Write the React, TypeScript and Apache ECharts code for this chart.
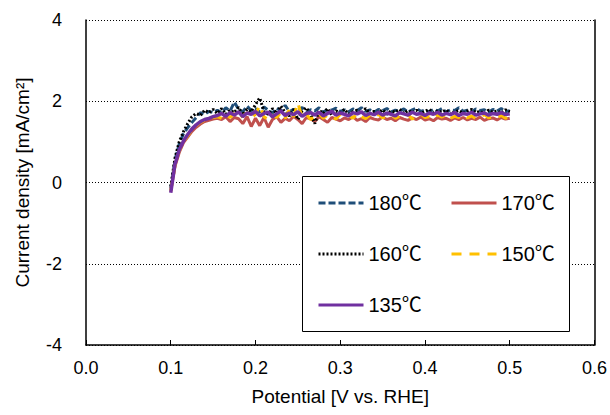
import React, { useEffect, useRef } from "react";
import * as echarts from "echarts";

const potentials = [
  0.100, 0.105, 0.110, 0.115, 0.120, 0.125, 0.130, 0.135, 0.140, 0.145, 0.150,
  0.155, 0.160, 0.165, 0.170, 0.175, 0.180, 0.185, 0.190, 0.195, 0.200,
  0.205, 0.210, 0.215, 0.220, 0.225, 0.230, 0.235, 0.240, 0.245, 0.250,
  0.255, 0.260, 0.265, 0.270, 0.275, 0.280, 0.285, 0.290, 0.295, 0.300,
  0.305, 0.310, 0.315, 0.320, 0.325, 0.330, 0.335, 0.340, 0.345, 0.350,
  0.355, 0.360, 0.365, 0.370, 0.375, 0.380, 0.385, 0.390, 0.395, 0.400,
  0.405, 0.410, 0.415, 0.420, 0.425, 0.430, 0.435, 0.440, 0.445, 0.450,
  0.455, 0.460, 0.465, 0.470, 0.475, 0.480, 0.485, 0.490, 0.495, 0.500,
];

const current180 = [
  -0.15, 0.55, 0.95, 1.20, 1.35, 1.48, 1.60, 1.72, 1.68, 1.75, 1.72,
  1.78, 1.72, 1.84, 1.76, 1.98, 1.80, 1.74, 1.88, 1.77, 1.82,
  1.73, 1.86, 1.78, 1.71, 1.83, 1.76, 1.90, 1.74, 1.80, 1.77,
  1.85, 1.72, 1.79, 1.76, 1.84, 1.73, 1.80, 1.78, 1.83, 1.75,
  1.79, 1.74, 1.81, 1.77, 1.84, 1.75, 1.79, 1.73, 1.80, 1.77,
  1.82, 1.74, 1.78, 1.76, 1.81, 1.73, 1.79, 1.83, 1.75, 1.78,
  1.74, 1.80, 1.76, 1.82, 1.73, 1.79, 1.77, 1.84, 1.75, 1.78,
  1.74, 1.81, 1.77, 1.79, 1.73, 1.80, 1.76, 1.82, 1.74, 1.77,
];

const current170 = [
  -0.20, 0.40, 0.74, 0.98, 1.12, 1.26, 1.36, 1.44, 1.50, 1.53, 1.56,
  1.58, 1.55, 1.62, 1.50, 1.60, 1.57, 1.45, 1.62, 1.38, 1.58,
  1.40, 1.60, 1.36, 1.55, 1.62, 1.48, 1.58, 1.52, 1.63, 1.55,
  1.45, 1.60, 1.57, 1.50, 1.62, 1.55, 1.48, 1.60, 1.56, 1.52,
  1.59, 1.55, 1.62, 1.53, 1.57, 1.50, 1.60, 1.56, 1.54, 1.61,
  1.55, 1.58, 1.52, 1.60, 1.56, 1.53, 1.59, 1.55, 1.61, 1.54,
  1.57, 1.52, 1.60, 1.56, 1.58, 1.53, 1.59, 1.55, 1.60, 1.54,
  1.58, 1.55, 1.61, 1.53, 1.57, 1.59, 1.54, 1.60, 1.56, 1.58,
];

const current160 = [
  -0.10, 0.60, 1.00, 1.25, 1.45, 1.62, 1.70, 1.65, 1.78, 1.72, 1.80,
  1.70, 1.82, 1.68, 1.78, 1.72, 1.85, 1.66, 1.80, 1.74, 1.92,
  2.08, 1.75, 1.68, 1.82, 1.70, 1.88, 1.72, 1.64, 1.80, 1.55,
  1.76, 1.84, 1.68, 1.45, 1.78, 1.70, 1.82, 1.66, 1.76, 1.72,
  1.80, 1.68, 1.74, 1.78, 1.70, 1.82, 1.69, 1.75, 1.72, 1.79,
  1.68, 1.76, 1.73, 1.80, 1.70, 1.77, 1.72, 1.78, 1.69, 1.75,
  1.80, 1.71, 1.76, 1.73, 1.79, 1.68, 1.74, 1.77, 1.70, 1.76,
  1.80, 1.72, 1.75, 1.69, 1.78, 1.73, 1.76, 1.71, 1.79, 1.74,
];

const current150 = [
  -0.22, 0.42, 0.78, 1.00, 1.15, 1.30, 1.40, 1.48, 1.53, 1.57, 1.60,
  1.62, 1.58, 1.66, 1.60, 1.70, 1.56, 1.64, 1.72, 1.58, 1.68,
  1.90, 1.62, 1.55, 1.66, 1.60, 1.72, 1.58, 1.80, 1.62, 1.96,
  1.60, 1.68, 1.55, 1.64, 1.70, 1.58, 1.66, 1.62, 1.56, 1.68,
  1.60, 1.65, 1.58, 1.70, 1.62, 1.57, 1.66, 1.61, 1.68, 1.59,
  1.64, 1.70, 1.58, 1.63, 1.60, 1.67, 1.56, 1.64, 1.69, 1.60,
  1.62, 1.57, 1.66, 1.61, 1.68, 1.58, 1.63, 1.60, 1.66, 1.59,
  1.64, 1.57, 1.62, 1.67, 1.59, 1.63, 1.60, 1.65, 1.58, 1.62,
];

const current135 = [
  -0.25, 0.45, 0.80, 1.02, 1.18, 1.32, 1.42, 1.50, 1.55, 1.58, 1.62,
  1.65, 1.70, 1.63, 1.72, 1.66, 1.74, 1.62, 1.71, 1.68, 1.75,
  1.64, 1.70, 1.73, 1.62, 1.69, 1.76, 1.65, 1.71, 1.67, 1.74,
  1.63, 1.70, 1.72, 1.66, 1.73, 1.64, 1.70, 1.75, 1.66, 1.71,
  1.68, 1.64, 1.72, 1.69, 1.74, 1.65, 1.70, 1.67, 1.73, 1.66,
  1.71, 1.68, 1.64, 1.72, 1.69, 1.66, 1.73, 1.68, 1.70, 1.65,
  1.71, 1.68, 1.73, 1.66, 1.70, 1.67, 1.72, 1.65, 1.70, 1.68,
  1.73, 1.66, 1.69, 1.71, 1.66, 1.70, 1.68, 1.72, 1.67, 1.69,
];

const seriesNames = ["180℃", "170℃", "160℃", "150℃", "135℃"];
const seriesValues = [current180, current170, current160, current150, current135];
const seriesColors = ["#1F4E79", "#C0504D", "#000000", "#FFC000", "#7030A0"];
const seriesDash: any[] = [[7, 3], "solid", [2, 2], [10, 8], "solid"];
const seriesWidths = [3, 3, 3, 3, 3.5];

const legendPos = [
  { left: 317, top: 192 },
  { left: 450, top: 192 },
  { left: 317, top: 243 },
  { left: 450, top: 243 },
  { left: 317, top: 294 },
];

const FONT = "'Liberation Sans', Arial, sans-serif";
const LEGEND_FONT = "'Liberation Sans', 'Noto Sans CJK JP', sans-serif";

export default function App() {
  const ref = useRef<HTMLDivElement>(null);
  useEffect(() => {
    document.body.style.margin = "0";
    const chart = echarts.init(ref.current!, undefined, { renderer: "svg" });
    const series = seriesNames.map((name, i) => ({
      name,
      type: "line",
      showSymbol: false,
      symbol: "none",
      data: potentials.map((x, j) => [x, seriesValues[i][j]]),
      lineStyle: { color: seriesColors[i], width: seriesWidths[i], type: seriesDash[i] },
      itemStyle: { color: seriesColors[i] },
      z: 2 + i * 0.01,
    }));
    const legends = seriesNames.map((name, i) => ({
      data: [name],
      left: legendPos[i].left,
      top: legendPos[i].top,
      padding: 0,
      itemWidth: 45,
      itemHeight: 14,
      itemGap: 6,
      selectedMode: false,
      itemStyle: { opacity: 0 },
      lineStyle: { width: 3 },
      textStyle: { fontFamily: LEGEND_FONT, fontSize: 20, color: "#000", lineHeight: 22 },
      z: 5,
    }));
    chart.setOption({
      animation: false,
      textStyle: { fontFamily: FONT },
      grid: { left: 86, right: 15, top: 20, bottom: 70, containLabel: false },
      legend: legends,
      graphic: [
        {
          type: "rect",
          left: 302,
          top: 176,
          shape: { width: 267, height: 155 },
          style: { fill: "#fff", stroke: "#000", lineWidth: 1 },
          z: 3,
        },
      ],
      xAxis: {
        type: "value",
        min: 0,
        max: 0.6,
        interval: 0.1,
        name: "Potential [V vs. RHE]",
        nameLocation: "middle",
        nameGap: 42,
        nameTextStyle: { fontFamily: FONT, fontSize: 19, color: "#000" },
        axisLine: { show: true, onZero: false, lineStyle: { color: "#000", width: 1.5 } },
        axisTick: { show: true, inside: true, length: 5, lineStyle: { color: "#000" } },
        axisLabel: {
          margin: 14,
          fontFamily: FONT,
          fontSize: 18,
          color: "#000",
          formatter: (v: number) => v.toFixed(1),
        },
        splitLine: { show: false },
      },
      yAxis: [
        {
          type: "value",
          min: -4,
          max: 4,
          interval: 2,
          name: "Current density [mA/cm²]",
          nameLocation: "middle",
          nameGap: 54,
          nameTextStyle: { fontFamily: FONT, fontSize: 19, color: "#000" },
          axisLine: { show: true, onZero: false, lineStyle: { color: "#000", width: 1.5 } },
          axisTick: { show: false },
          axisLabel: { margin: 24, fontFamily: FONT, fontSize: 18, color: "#000" },
          splitLine: { show: true, lineStyle: { color: "#000", type: [1, 2], width: 1 } },
        },
        {
          type: "value",
          min: -4,
          max: 4,
          interval: 2,
          position: "right",
          axisLine: { show: true, onZero: false, lineStyle: { color: "#000", width: 1.5 } },
          axisTick: { show: false },
          axisLabel: { show: false },
          splitLine: { show: false },
        },
      ],
      series,
    });
    return () => chart.dispose();
  }, []);
  return <div ref={ref} style={{ width: 610, height: 415 }} />;
}
